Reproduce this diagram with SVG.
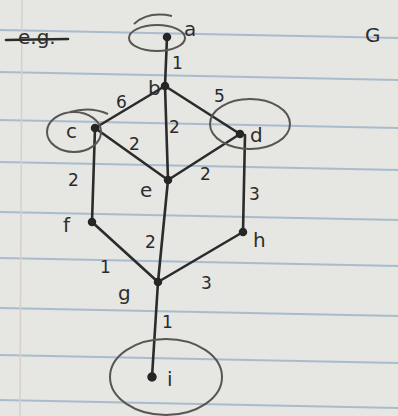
<svg xmlns="http://www.w3.org/2000/svg" width="398" height="416" viewBox="0 0 398 416">
<style>
.rule{stroke:#a9bccd;stroke-width:2;fill:none}
.edge{stroke:#2b2b2b;stroke-width:2.6;fill:none;stroke-linecap:round}
.ring{stroke:#5a5552;stroke-width:2;fill:none}
.dot{fill:#262626;stroke:#262626;stroke-width:1.5}
.lbl{font-family:"DejaVu Sans",sans-serif;font-size:20px;fill:#2e2e2e}
.w{font-family:"DejaVu Sans",sans-serif;font-size:17px;fill:#2a2a2a}
</style>
<rect width="398" height="416" fill="#e6e6e3"/>
<g id="paper">
<line class="rule" x1="0" y1="30" x2="398" y2="38"/>
<line class="rule" x1="0" y1="72" x2="398" y2="80"/>
<line class="rule" x1="0" y1="120" x2="398" y2="128"/>
<line class="rule" x1="0" y1="162" x2="398" y2="170"/>
<line class="rule" x1="0" y1="212" x2="398" y2="220"/>
<line class="rule" x1="0" y1="258" x2="398" y2="266"/>
<line class="rule" x1="0" y1="308" x2="398" y2="316"/>
<line class="rule" x1="0" y1="355" x2="398" y2="363"/>
<line class="rule" x1="0" y1="400" x2="398" y2="408"/>
<line x1="22" y1="0" x2="20" y2="416" stroke="#d8cfcc" stroke-width="1.5"/>
</g>
<g id="title">
<text class="lbl" x="18" y="44" font-size="26">e.g.</text>
<line class="edge" x1="6" y1="40" x2="68" y2="39" stroke-width="2"/>
<text class="lbl" x="365" y="42" font-size="24">G</text>
</g>
<g id="connectors">
<line class="edge" x1="167" y1="37" x2="165" y2="86"/>
<line class="edge" x1="165" y1="86" x2="95" y2="128"/>
<line class="edge" x1="165" y1="86" x2="240" y2="134"/>
<line class="edge" x1="165" y1="86" x2="168" y2="180"/>
<line class="edge" x1="95" y1="128" x2="168" y2="180"/>
<line class="edge" x1="240" y1="134" x2="168" y2="180"/>
<line class="edge" x1="95" y1="128" x2="92" y2="222"/>
<line class="edge" x1="245" y1="135" x2="243" y2="232"/>
<line class="edge" x1="168" y1="180" x2="158" y2="282"/>
<line class="edge" x1="92" y1="222" x2="158" y2="282"/>
<line class="edge" x1="243" y1="232" x2="158" y2="282"/>
<line class="edge" x1="158" y1="282" x2="152" y2="377"/>
<text class="w" x="172" y="69">1</text>
<text class="w" x="116" y="108">6</text>
<text class="w" x="214" y="102">5</text>
<text class="w" x="169" y="133">2</text>
<text class="w" x="129" y="150">2</text>
<text class="w" x="200" y="180">2</text>
<text class="w" x="68" y="186">2</text>
<text class="w" x="249" y="200">3</text>
<text class="w" x="145" y="248">2</text>
<text class="w" x="100" y="273">1</text>
<text class="w" x="201" y="289">3</text>
<text class="w" x="162" y="328">1</text>
</g>
<g id="a"><ellipse class="ring" cx="157" cy="38" rx="28" ry="13"/><path class="ring" d="M134 24 Q148 11 172 16"/><circle class="dot" cx="167" cy="37" r="3.5"/><text class="lbl" x="184" y="36">a</text></g>
<g id="b"><circle class="dot" cx="165" cy="86" r="3.5"/><text class="lbl" x="148" y="95">b</text></g>
<g id="c"><ellipse class="ring" cx="74" cy="132" rx="27" ry="20"/><path class="ring" d="M70 112 Q90 106 108 114"/><circle class="dot" cx="95" cy="128" r="3.5"/><text class="lbl" x="66" y="138">c</text></g>
<g id="d"><ellipse class="ring" cx="250" cy="124" rx="40" ry="25"/><circle class="dot" cx="240" cy="134" r="3.5"/><text class="lbl" x="250" y="142">d</text></g>
<g id="e"><circle class="dot" cx="168" cy="180" r="3.5"/><text class="lbl" x="140" y="197">e</text></g>
<g id="f"><circle class="dot" cx="92" cy="222" r="3.5"/><text class="lbl" x="63" y="232">f</text></g>
<g id="h"><circle class="dot" cx="243" cy="232" r="3.5"/><text class="lbl" x="253" y="247">h</text></g>
<g id="g"><circle class="dot" cx="158" cy="282" r="3.5"/><text class="lbl" x="118" y="300">g</text></g>
<g id="i"><ellipse class="ring" cx="166" cy="377" rx="56" ry="38"/><circle class="dot" cx="152" cy="377" r="4"/><text class="lbl" x="167" y="386">i</text></g>
</svg>
